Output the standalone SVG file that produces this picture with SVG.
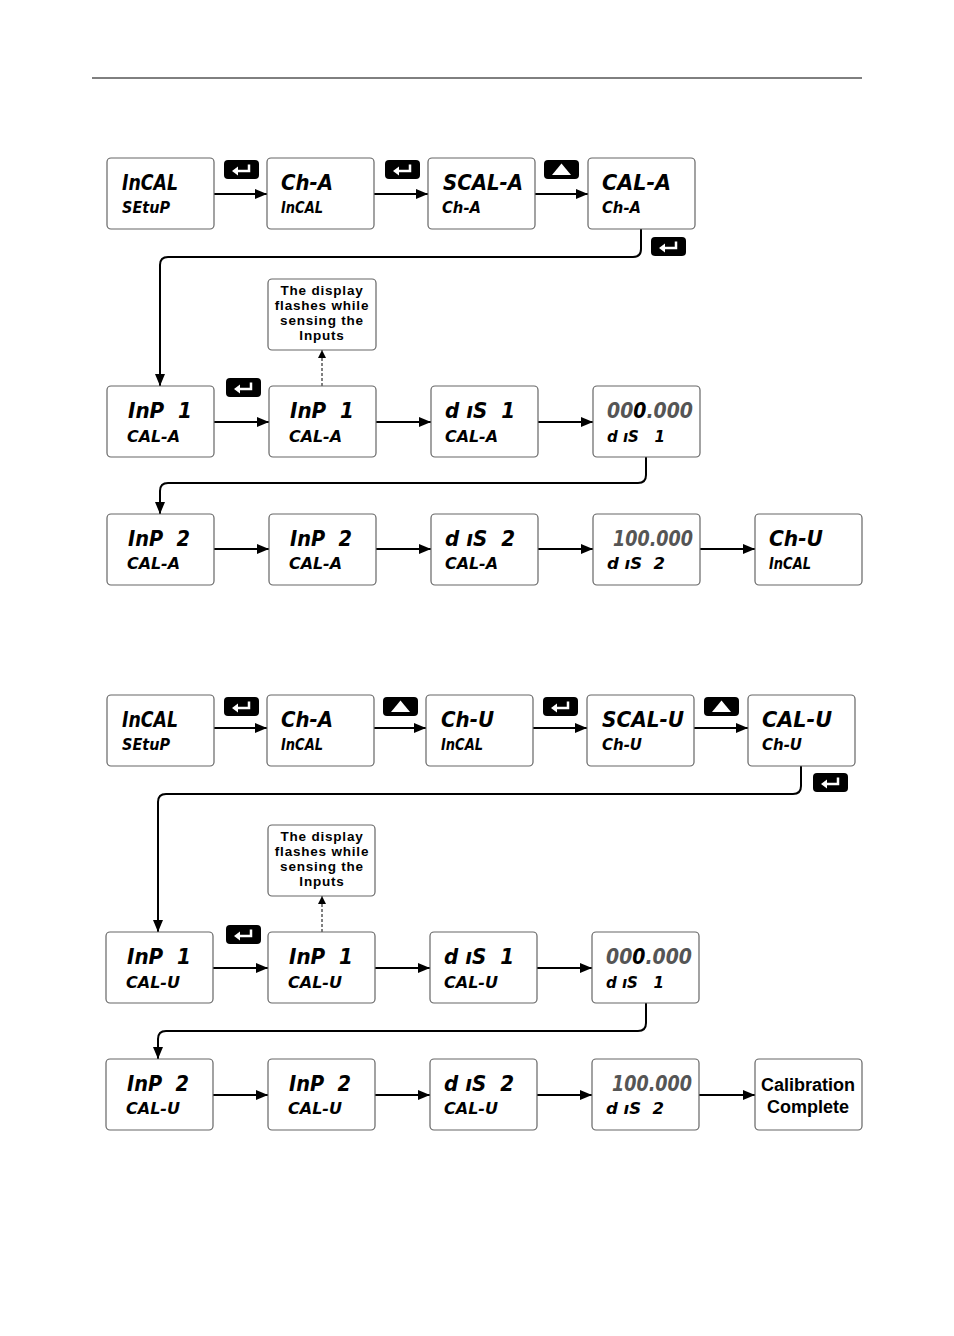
<svg xmlns="http://www.w3.org/2000/svg" xmlns:xlink="http://www.w3.org/1999/xlink" width="954" height="1336" viewBox="0 0 954 1336">
<style>
.box{fill:#fff;stroke:#666;stroke-width:1.2}
.t1{font-family:"DejaVu Sans Condensed","DejaVu Sans",sans-serif;font-weight:bold;font-style:italic;font-size:22px;fill:#000;white-space:pre}
.t2{font-family:"DejaVu Sans Condensed","DejaVu Sans",sans-serif;font-weight:bold;font-style:italic;font-size:16px;fill:#000;white-space:pre}
.g{fill:#555}
.note{font-family:"Liberation Sans",Arial,sans-serif;font-weight:bold;font-size:13.5px;letter-spacing:0.8px;fill:#000;text-anchor:middle}
.big{font-family:"Liberation Sans",Arial,sans-serif;font-weight:bold;font-size:18px;fill:#000;text-anchor:middle}
.ln{fill:none;stroke:#000;stroke-width:2;marker-end:url(#ah)}
.dash{fill:none;stroke:#000;stroke-width:1;stroke-dasharray:3,2;marker-end:url(#ahs)}
</style>
<defs>
<marker id="ah" markerWidth="12" markerHeight="10" refX="12" refY="5" orient="auto" markerUnits="userSpaceOnUse"><path d="M0,0 L12,5 L0,10 Z" fill="#000"/></marker>
<marker id="ahs" markerWidth="8" markerHeight="8" refX="8" refY="4" orient="auto" markerUnits="userSpaceOnUse"><path d="M0,0 L8,4 L0,8 Z" fill="#000"/></marker>
<symbol id="enter" viewBox="0 0 35 19" width="35" height="19"><rect x="0" y="0" width="35" height="19" rx="4" fill="#000"/><path d="M25 4.5 V11 H13" fill="none" stroke="#fff" stroke-width="2.5"/><path d="M8 11 L14 6.5 L14 15.5 Z" fill="#fff"/></symbol>
<symbol id="up" viewBox="0 0 35 19" width="35" height="19"><rect x="0" y="0" width="35" height="19" rx="4" fill="#000"/><path d="M17.5 3.5 L27 15 L8 15 Z" fill="#fff"/></symbol>
</defs>
<rect width="954" height="1336" fill="#fff"/>
<line x1="92" y1="78" x2="862" y2="78" stroke="#000" stroke-width="1"/>

<g id="connectors">
<path class="ln" d="M214 194 H267"/><path class="ln" d="M374 194 H428"/><path class="ln" d="M535 194 H588"/>
<path class="ln" d="M641 229 V249 Q641 257 633 257 H168 Q160 257 160 265 V386"/>
<path class="ln" d="M214 422 H269"/><path class="ln" d="M376 422 H431"/><path class="ln" d="M538 422 H593"/>
<path class="dash" d="M322 386 V350"/>
<path class="ln" d="M646 457 V475 Q646 483 638 483 H168 Q160 483 160 491 V514"/>
<path class="ln" d="M214 549 H269"/><path class="ln" d="M376 549 H431"/><path class="ln" d="M538 549 H593"/><path class="ln" d="M700 549 H755"/>
<path class="ln" d="M214 728 H267"/><path class="ln" d="M374 728 H426"/><path class="ln" d="M533 728 H587"/><path class="ln" d="M694 728 H748"/>
<path class="ln" d="M801 766 V786 Q801 794 793 794 H166 Q158 794 158 802 V932"/>
<path class="ln" d="M213 968 H268"/><path class="ln" d="M375 968 H430"/><path class="ln" d="M537 968 H592"/>
<path class="dash" d="M322 932 V896"/>
<path class="ln" d="M646 1003 V1023 Q646 1031 638 1031 H166 Q158 1031 158 1039 V1059"/>
<path class="ln" d="M213 1095 H268"/><path class="ln" d="M375 1095 H430"/><path class="ln" d="M537 1095 H592"/><path class="ln" d="M699 1095 H755"/>
</g>

<g id="buttons">
<use xlink:href="#enter" x="224" y="160"/><use xlink:href="#enter" x="385" y="160"/><use xlink:href="#up" x="544" y="160"/><use xlink:href="#enter" x="651" y="237"/><use xlink:href="#enter" x="226" y="378"/>
<use xlink:href="#enter" x="224" y="697"/><use xlink:href="#up" x="383" y="697"/><use xlink:href="#enter" x="543" y="697"/><use xlink:href="#up" x="704" y="697"/><use xlink:href="#enter" x="813" y="773"/><use xlink:href="#enter" x="226" y="925"/>
</g>

<g id="a1"><rect class="box" x="107" y="158" width="107" height="71" rx="4"/><text class="t1" x="122" y="190" textLength="56" lengthAdjust="spacingAndGlyphs">InCAL</text><text class="t2" x="122" y="213" textLength="48" lengthAdjust="spacingAndGlyphs">SEtuP</text></g>
<g id="a2"><rect class="box" x="267" y="158" width="107" height="71" rx="4"/><text class="t1" x="281" y="190" textLength="52" lengthAdjust="spacingAndGlyphs">Ch-A</text><text class="t2" x="281" y="213" textLength="42" lengthAdjust="spacingAndGlyphs">InCAL</text></g>
<g id="a3"><rect class="box" x="428" y="158" width="107" height="71" rx="4"/><text class="t1" x="443" y="190" textLength="80" lengthAdjust="spacingAndGlyphs">SCAL-A</text><text class="t2" x="442" y="213" textLength="39" lengthAdjust="spacingAndGlyphs">Ch-A</text></g>
<g id="a4"><rect class="box" x="588" y="158" width="107" height="71" rx="4"/><text class="t1" x="602" y="190" textLength="69" lengthAdjust="spacingAndGlyphs">CAL-A</text><text class="t2" x="602" y="213" textLength="39" lengthAdjust="spacingAndGlyphs">Ch-A</text></g>

<g id="note1"><rect class="box" x="268" y="279" width="108" height="71" rx="4"/><text class="note" x="322" y="295">The display</text><text class="note" x="322" y="310">flashes while</text><text class="note" x="322" y="325">sensing the</text><text class="note" x="322" y="340">Inputs</text></g>

<g id="b1"><rect class="box" x="107" y="386" width="107" height="71" rx="4"/><text class="t1" x="128" y="418" textLength="64" lengthAdjust="spacingAndGlyphs">InP  1</text><text class="t2" x="127" y="442" textLength="53" lengthAdjust="spacingAndGlyphs">CAL-A</text></g>
<g id="b2"><rect class="box" x="269" y="386" width="107" height="71" rx="4"/><text class="t1" x="290" y="418" textLength="64" lengthAdjust="spacingAndGlyphs">InP  1</text><text class="t2" x="289" y="442" textLength="53" lengthAdjust="spacingAndGlyphs">CAL-A</text></g>
<g id="b3"><rect class="box" x="431" y="386" width="107" height="71" rx="4"/><text class="t1" x="445" y="418" textLength="70" lengthAdjust="spacingAndGlyphs">d ıS  1</text><text class="t2" x="445" y="442" textLength="53" lengthAdjust="spacingAndGlyphs">CAL-A</text></g>
<g id="b4"><rect class="box" x="593" y="386" width="107" height="71" rx="4"/><text class="t1" x="607" y="418" textLength="86" lengthAdjust="spacingAndGlyphs"><tspan class="g">00</tspan>0<tspan class="g">.000</tspan></text><text class="t2" x="607" y="442" textLength="58" lengthAdjust="spacingAndGlyphs">d ıS   1</text></g>

<g id="c1"><rect class="box" x="107" y="514" width="107" height="71" rx="4"/><text class="t1" x="128" y="546" textLength="62" lengthAdjust="spacingAndGlyphs">InP  2</text><text class="t2" x="127" y="569" textLength="53" lengthAdjust="spacingAndGlyphs">CAL-A</text></g>
<g id="c2"><rect class="box" x="269" y="514" width="107" height="71" rx="4"/><text class="t1" x="290" y="546" textLength="62" lengthAdjust="spacingAndGlyphs">InP  2</text><text class="t2" x="289" y="569" textLength="53" lengthAdjust="spacingAndGlyphs">CAL-A</text></g>
<g id="c3"><rect class="box" x="431" y="514" width="107" height="71" rx="4"/><text class="t1" x="445" y="546" textLength="70" lengthAdjust="spacingAndGlyphs">d ıS  2</text><text class="t2" x="445" y="569" textLength="53" lengthAdjust="spacingAndGlyphs">CAL-A</text></g>
<g id="c4"><rect class="box" x="593" y="514" width="107" height="71" rx="4"/><text class="t1 g" x="613" y="546" textLength="80" lengthAdjust="spacingAndGlyphs">100.000</text><text class="t2" x="607" y="569" textLength="58" lengthAdjust="spacingAndGlyphs">d ıS  2</text></g>
<g id="c5"><rect class="box" x="755" y="514" width="107" height="71" rx="4"/><text class="t1" x="769" y="546" textLength="54" lengthAdjust="spacingAndGlyphs">Ch-U</text><text class="t2" x="769" y="569" textLength="42" lengthAdjust="spacingAndGlyphs">InCAL</text></g>

<g id="d1"><rect class="box" x="107" y="695" width="107" height="71" rx="4"/><text class="t1" x="122" y="727" textLength="56" lengthAdjust="spacingAndGlyphs">InCAL</text><text class="t2" x="122" y="750" textLength="48" lengthAdjust="spacingAndGlyphs">SEtuP</text></g>
<g id="d2"><rect class="box" x="267" y="695" width="107" height="71" rx="4"/><text class="t1" x="281" y="727" textLength="52" lengthAdjust="spacingAndGlyphs">Ch-A</text><text class="t2" x="281" y="750" textLength="42" lengthAdjust="spacingAndGlyphs">InCAL</text></g>
<g id="d3"><rect class="box" x="426" y="695" width="107" height="71" rx="4"/><text class="t1" x="441" y="727" textLength="53" lengthAdjust="spacingAndGlyphs">Ch-U</text><text class="t2" x="441" y="750" textLength="42" lengthAdjust="spacingAndGlyphs">InCAL</text></g>
<g id="d4"><rect class="box" x="587" y="695" width="107" height="71" rx="4"/><text class="t1" x="602" y="727" textLength="82" lengthAdjust="spacingAndGlyphs">SCAL-U</text><text class="t2" x="602" y="750" textLength="40" lengthAdjust="spacingAndGlyphs">Ch-U</text></g>
<g id="d5"><rect class="box" x="748" y="695" width="107" height="71" rx="4"/><text class="t1" x="762" y="727" textLength="70" lengthAdjust="spacingAndGlyphs">CAL-U</text><text class="t2" x="762" y="750" textLength="40" lengthAdjust="spacingAndGlyphs">Ch-U</text></g>

<g id="note2"><rect class="box" x="268" y="825" width="107" height="71" rx="4"/><text class="note" x="322" y="841">The display</text><text class="note" x="322" y="856">flashes while</text><text class="note" x="322" y="871">sensing the</text><text class="note" x="322" y="886">Inputs</text></g>

<g id="e1"><rect class="box" x="106" y="932" width="107" height="71" rx="4"/><text class="t1" x="127" y="964" textLength="64" lengthAdjust="spacingAndGlyphs">InP  1</text><text class="t2" x="126" y="988" textLength="54" lengthAdjust="spacingAndGlyphs">CAL-U</text></g>
<g id="e2"><rect class="box" x="268" y="932" width="107" height="71" rx="4"/><text class="t1" x="289" y="964" textLength="64" lengthAdjust="spacingAndGlyphs">InP  1</text><text class="t2" x="288" y="988" textLength="54" lengthAdjust="spacingAndGlyphs">CAL-U</text></g>
<g id="e3"><rect class="box" x="430" y="932" width="107" height="71" rx="4"/><text class="t1" x="444" y="964" textLength="70" lengthAdjust="spacingAndGlyphs">d ıS  1</text><text class="t2" x="444" y="988" textLength="54" lengthAdjust="spacingAndGlyphs">CAL-U</text></g>
<g id="e4"><rect class="box" x="592" y="932" width="107" height="71" rx="4"/><text class="t1" x="606" y="964" textLength="86" lengthAdjust="spacingAndGlyphs"><tspan class="g">00</tspan>0<tspan class="g">.000</tspan></text><text class="t2" x="606" y="988" textLength="58" lengthAdjust="spacingAndGlyphs">d ıS   1</text></g>

<g id="f1"><rect class="box" x="106" y="1059" width="107" height="71" rx="4"/><text class="t1" x="127" y="1091" textLength="62" lengthAdjust="spacingAndGlyphs">InP  2</text><text class="t2" x="126" y="1114" textLength="54" lengthAdjust="spacingAndGlyphs">CAL-U</text></g>
<g id="f2"><rect class="box" x="268" y="1059" width="107" height="71" rx="4"/><text class="t1" x="289" y="1091" textLength="62" lengthAdjust="spacingAndGlyphs">InP  2</text><text class="t2" x="288" y="1114" textLength="54" lengthAdjust="spacingAndGlyphs">CAL-U</text></g>
<g id="f3"><rect class="box" x="430" y="1059" width="107" height="71" rx="4"/><text class="t1" x="444" y="1091" textLength="70" lengthAdjust="spacingAndGlyphs">d ıS  2</text><text class="t2" x="444" y="1114" textLength="54" lengthAdjust="spacingAndGlyphs">CAL-U</text></g>
<g id="f4"><rect class="box" x="592" y="1059" width="107" height="71" rx="4"/><text class="t1 g" x="612" y="1091" textLength="80" lengthAdjust="spacingAndGlyphs">100.000</text><text class="t2" x="606" y="1114" textLength="58" lengthAdjust="spacingAndGlyphs">d ıS  2</text></g>
<g id="f5"><rect class="box" x="755" y="1059" width="107" height="71" rx="4"/><text class="big" x="808" y="1091">Calibration</text><text class="big" x="808" y="1113">Complete</text></g>
</svg>
